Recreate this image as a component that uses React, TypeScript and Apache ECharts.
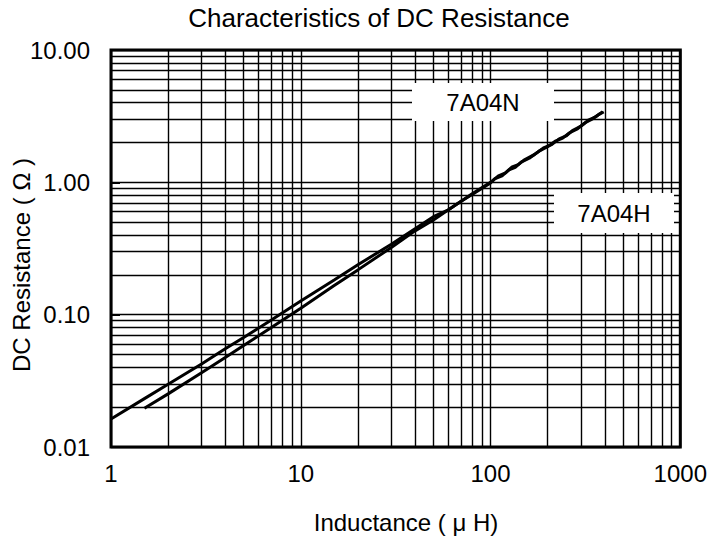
import React, { useEffect, useRef } from "react";
import * as echarts from "echarts";

// ---- data ----
const seriesNames = ["7A04N", "7A04H"];
const inductanceN = [1, 1.5, 2, 3, 4, 5, 7, 10, 15, 20, 30, 40, 50, 60, 70, 80, 100, 110, 120, 130, 140, 150, 170, 190, 210, 230, 250, 270, 300, 330, 360, 390];
const resistanceN = [0.0163, 0.0232, 0.0298, 0.0424, 0.0552, 0.0672, 0.0913, 0.127, 0.183, 0.238, 0.341, 0.445, 0.55, 0.62, 0.72, 0.82, 1.0, 1.12, 1.18, 1.31, 1.36, 1.47, 1.62, 1.82, 1.93, 2.13, 2.24, 2.46, 2.66, 2.97, 3.14, 3.42];
const inductanceH = [1.5, 2, 3, 4, 5, 7, 10, 15, 20, 30, 40, 50, 60, 70, 80, 100, 105, 115, 125, 135, 145, 160, 180, 200, 220, 240, 260, 285, 315, 345, 375, 395];
const resistanceH = [0.0196, 0.0252, 0.0364, 0.0475, 0.0585, 0.08, 0.112, 0.166, 0.218, 0.322, 0.43, 0.52, 0.62, 0.72, 0.81, 0.99, 1.06, 1.12, 1.24, 1.3, 1.42, 1.52, 1.72, 1.86, 2.05, 2.16, 2.36, 2.52, 2.82, 3.02, 3.28, 3.4];
const minorX = [2, 3, 4, 5, 6, 7, 8, 9, 20, 30, 40, 50, 60, 70, 80, 90, 200, 300, 400, 500, 600, 700, 800, 900];
const minorY = [0.02, 0.03, 0.04, 0.05, 0.06, 0.07, 0.08, 0.09, 0.2, 0.3, 0.4, 0.5, 0.6, 0.7, 0.8, 0.9, 2, 3, 4, 5, 6, 7, 8, 9];
const titleText = "Characteristics of DC Resistance";
const xName = "Inductance ( \u03bc H)";
const yName = "DC Resistance ( \u03a9 )";

const FONT = "'Liberation Sans', Arial, sans-serif";

export default function App() {
  const ref = useRef<HTMLDivElement>(null);
  useEffect(() => {
    if (!ref.current) return;
    const chart = echarts.init(ref.current, undefined, { renderer: "svg" });
    const gridLine = { color: "#000", width: 1.4, type: "solid" as const };
    const txt = (text: string, x: number, y: number, size: number, extra: any = {}) => ({
      type: "text", x, y, z: 101, ...extra,
      style: { text, font: `${size}px ${FONT}`, fill: "#000", textAlign: "center", textVerticalAlign: "middle" },
    });
    chart.setOption({
      animation: false,
      backgroundColor: "#fff",
      textStyle: { fontFamily: FONT },
      grid: {
        left: 111, right: 27, top: 50, bottom: 98,
        show: true, borderColor: "#000", borderWidth: 3, backgroundColor: "transparent",
      },
      xAxis: {
        type: "log", logBase: 10, min: 1, max: 1000,
        axisLine: { show: false },
        axisTick: { show: false },
        splitLine: { show: true, lineStyle: gridLine },
        axisLabel: {
          color: "#000", fontSize: 24, fontFamily: FONT, margin: 14,
          formatter: (v: number) => String(Math.round(v)),
        },
      },
      yAxis: {
        type: "log", logBase: 10, min: 0.01, max: 10,
        axisLine: { show: false },
        axisTick: { show: true, inside: true, length: 9, lineStyle: { color: "#000", width: 2 } },
        splitLine: { show: true, lineStyle: gridLine },
        axisLabel: {
          color: "#000", fontSize: 24, fontFamily: FONT, margin: 21,
          formatter: (v: number) => v.toFixed(2),
        },
      },
      graphic: [
        txt(titleText, 379, 18, 26),
        txt(xName, 406, 522, 24),
        txt(yName, 21, 265, 24, { rotation: Math.PI / 2 }),
        { type: "rect", x: 412, y: 83, z: 100, shape: { width: 142, height: 38 }, style: { fill: "#fff" } },
        txt(seriesNames[0], 483, 102, 24),
        { type: "rect", x: 554, y: 193, z: 100, shape: { width: 120, height: 40 }, style: { fill: "#fff" } },
        txt(seriesNames[1], 614, 213, 24),
      ],
      series: [
        {
          type: "line", name: "grid", data: [], z: 1, silent: true,
          markLine: {
            silent: true, symbol: ["none", "none"], label: { show: false },
            lineStyle: gridLine, animation: false,
            data: [
              ...minorX.map((v) => ({ xAxis: v })),
              ...minorY.map((v) => ({ yAxis: v })),
            ],
          },
        },
        {
          type: "line", name: seriesNames[0], z: 5, showSymbol: false, symbol: "none",
          data: inductanceN.map((x, i) => [x, resistanceN[i]]),
          lineStyle: { color: "#000", width: 3 },
        },
        {
          type: "line", name: seriesNames[1], z: 5, showSymbol: false, symbol: "none",
          data: inductanceH.map((x, i) => [x, resistanceH[i]]),
          lineStyle: { color: "#000", width: 3 },
        },
      ],
    });
    return () => chart.dispose();
  }, []);
  return (
    <div
      ref={ref}
      style={{ position: "absolute", left: 0, top: 0, width: 710, height: 545, background: "#fff" }}
    />
  );
}
